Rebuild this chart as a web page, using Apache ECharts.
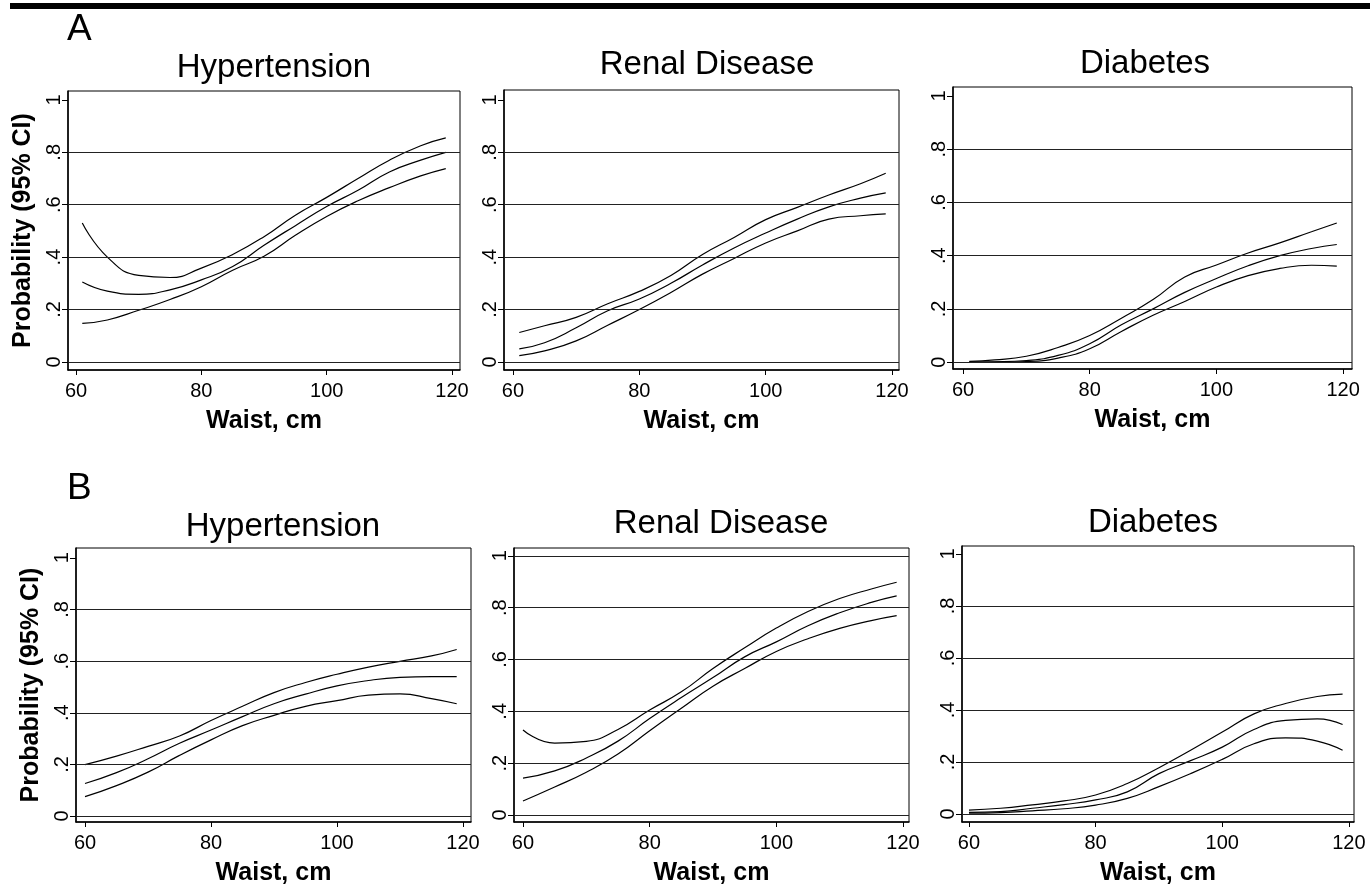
<!DOCTYPE html>
<html><head><meta charset="utf-8">
<script src="https://cdn.jsdelivr.net/npm/echarts@6/dist/echarts.min.js"></script>
<style>html,body{margin:0;padding:0;background:#fff}#c{width:1370px;height:887px}</style>
</head><body><div id="c"></div>
<script>
// ---------- DATA ----------
const waistA = [61,65,70,75,80,85,90,95,100,105,110,115,119];
const waistB = [60,65,70,75,80,85,90,95,100,105,110,115,119];
const xTicks = [60,80,100,120];
const yTicks = [0,0.2,0.4,0.6,0.8,1];

// Panel A
const hypA_upper = [0.53,0.40,0.33,0.322,0.358,0.41,0.478,0.56,0.628,0.70,0.77,0.825,0.855];
const hypA_mid   = [0.305,0.27,0.258,0.275,0.313,0.364,0.445,0.52,0.593,0.655,0.725,0.77,0.80];
const hypA_lower = [0.147,0.16,0.197,0.238,0.287,0.35,0.403,0.483,0.555,0.615,0.665,0.71,0.738];

const renA_upper = [0.112,0.138,0.17,0.222,0.269,0.33,0.41,0.475,0.543,0.59,0.637,0.68,0.72];
const renA_mid   = [0.05,0.073,0.13,0.195,0.24,0.30,0.37,0.435,0.492,0.545,0.592,0.625,0.645];
const renA_lower = [0.024,0.042,0.08,0.14,0.20,0.265,0.335,0.395,0.454,0.50,0.545,0.558,0.565];

const diaA_upper = [0.003,0.008,0.022,0.055,0.10,0.165,0.235,0.32,0.365,0.41,0.448,0.49,0.523];
const diaA_mid   = [0.0,0.001,0.006,0.025,0.069,0.14,0.20,0.262,0.314,0.362,0.40,0.427,0.442];
const diaA_lower = [0.0,0.0,0.002,0.015,0.05,0.115,0.176,0.228,0.282,0.325,0.352,0.364,0.361];

// Panel B
const hypB_upper = [0.199,0.232,0.27,0.31,0.37,0.425,0.478,0.517,0.549,0.577,0.599,0.62,0.645];
const hypB_mid   = [0.126,0.168,0.222,0.282,0.333,0.385,0.435,0.472,0.504,0.525,0.537,0.54,0.54];
const hypB_lower = [0.075,0.118,0.17,0.235,0.295,0.35,0.39,0.425,0.447,0.468,0.473,0.455,0.435];

const renB_upper = [0.328,0.277,0.284,0.33,0.405,0.475,0.565,0.645,0.721,0.785,0.835,0.872,0.898];
const renB_mid   = [0.142,0.17,0.22,0.285,0.372,0.453,0.53,0.61,0.668,0.73,0.78,0.82,0.845];
const renB_lower = [0.054,0.108,0.165,0.235,0.325,0.412,0.497,0.565,0.631,0.68,0.72,0.75,0.769];

const diaB_upper = [0.015,0.022,0.035,0.05,0.073,0.117,0.178,0.245,0.315,0.385,0.425,0.452,0.461];
const diaB_mid   = [0.006,0.009,0.022,0.036,0.054,0.085,0.155,0.205,0.257,0.325,0.36,0.366,0.344];
const diaB_lower = [0.003,0.005,0.012,0.02,0.034,0.06,0.105,0.155,0.21,0.27,0.293,0.28,0.245];

const gridLinesStd = [0,0.2,0.4,0.6,0.8];
const gridLinesFull = [0,0.2,0.4,0.6,0.8,1];

const titles = ['Hypertension','Renal Disease','Diabetes','Hypertension','Renal Disease','Diabetes'];
const panelLetters = ['A','B'];
const xName = 'Waist, cm';
const yName = 'Probability (95% CI)';

// ---------- LAYOUT ----------
const FONT = '"Liberation Sans", Arial, Helvetica, sans-serif';
const panels = [
  {g:{left:68, top:91, width:392, height:279}, xr:[58.72,121.27], yr:[-0.031,1.034], x:waistA, s:[hypA_upper,hypA_mid,hypA_lower], gl:gridLinesStd, yTitle:true, tx:274, ty:67.5},
  {g:{left:504,top:90, width:395, height:280}, xr:[58.58,121.1],  yr:[-0.031,1.038], x:waistA, s:[renA_upper,renA_mid,renA_lower], gl:gridLinesStd, yTitle:false, tx:707, ty:65},
  {g:{left:953,top:87, width:399, height:282}, xr:[58.42,121.4],  yr:[-0.026,1.034], x:waistA, s:[diaA_upper,diaA_mid,diaA_lower], gl:gridLinesStd, yTitle:false, tx:1145, ty:64},
  {g:{left:76, top:548,width:395, height:279}, xr:[58.57,121.27], yr:[-0.023,1.038], x:waistB, s:[hypB_upper,hypB_mid,hypB_lower], gl:gridLinesStd, yTitle:true, tx:283, ty:527},
  {g:{left:514,top:548,width:395, height:279}, xr:[58.58,120.95], yr:[-0.027,1.03],  x:waistB, s:[renB_upper,renB_mid,renB_lower], gl:gridLinesFull, yTitle:false, tx:721, ty:524},
  {g:{left:962,top:546,width:392, height:278}, xr:[58.9,120.8],   yr:[-0.031,1.031], x:waistB, s:[diaB_upper,diaB_mid,diaB_lower], gl:gridLinesStd, yTitle:false, tx:1153, ty:522.5}
];

const grid=[], xAxis=[], yAxis=[], series=[];
const graphic = [
  {type:'rect', shape:{x:10,y:3,width:1360,height:6}, style:{fill:'#000'}},
  {type:'text', style:{text:panelLetters[0], x:67, y:30, font:'37px '+FONT, fill:'#000', textAlign:'left', textVerticalAlign:'middle'}},
  {type:'text', style:{text:panelLetters[1], x:67, y:489, font:'37px '+FONT, fill:'#000', textAlign:'left', textVerticalAlign:'middle'}}
];

panels.forEach((p,i)=>{
  grid.push(Object.assign({show:true, borderColor:'#000', borderWidth:1, containLabel:false}, p.g));
  xAxis.push({
    type:'value', gridIndex:i, min:p.xr[0], max:p.xr[1],
    name:xName, nameLocation:'middle', nameGap:39,
    nameTextStyle:{fontFamily:FONT, fontWeight:'bold', fontSize:25, color:'#000'},
    axisLine:{show:true, onZero:false, lineStyle:{color:'#000', width:1.5}},
    axisTick:{show:true, inside:false, length:5, customValues:xTicks, lineStyle:{color:'#000'}},
    axisLabel:{show:true, customValues:xTicks, fontFamily:FONT, fontSize:20, color:'#000', margin:11},
    splitLine:{show:false}
  });
  yAxis.push({
    type:'value', gridIndex:i, min:p.yr[0], max:p.yr[1],
    name:p.yTitle?yName:'', nameLocation:'middle', nameGap:32, nameRotate:90,
    nameTextStyle:{fontFamily:FONT, fontWeight:'bold', fontSize:25, color:'#000'},
    axisLine:{show:true, onZero:false, lineStyle:{color:'#000', width:1.5}},
    axisTick:{show:true, inside:false, length:6, customValues:yTicks, lineStyle:{color:'#000'}},
    axisLabel:{show:true, customValues:yTicks, rotate:90, fontFamily:FONT, fontSize:20, color:'#000', margin:4,
      formatter:v=>{ if (Math.abs(v)<1e-9) return '0'; if (Math.abs(v-1)<1e-9) return '1'; return '.'+Math.round(v*10); }},
    splitLine:{show:false}
  });
  p.s.forEach((vals,k)=>{
    const ser = {
      type:'line', xAxisIndex:i, yAxisIndex:i, smooth:0.5, showSymbol:false, silent:true,
      lineStyle:{color:'#000', width:1.2}, data:p.x.map((xv,j)=>[xv, vals[j]]), z:3
    };
    if (k===0) {
      ser.markLine = {silent:true, symbol:'none', label:{show:false},
        lineStyle:{color:'#222', width:1, type:'solid'}, data:p.gl.map(v=>({yAxis:v}))};
    }
    series.push(ser);
  });
  graphic.push({type:'text', style:{text:titles[i], x:p.tx, y:p.ty, font:'33px '+FONT, fill:'#000', textAlign:'center', textVerticalAlign:'middle'}});
});

const chart = echarts.init(document.getElementById('c'), null, {renderer:'canvas'});
chart.setOption({backgroundColor:'#fff', animation:false, grid, xAxis, yAxis, series, graphic});
</script>
</body></html>
